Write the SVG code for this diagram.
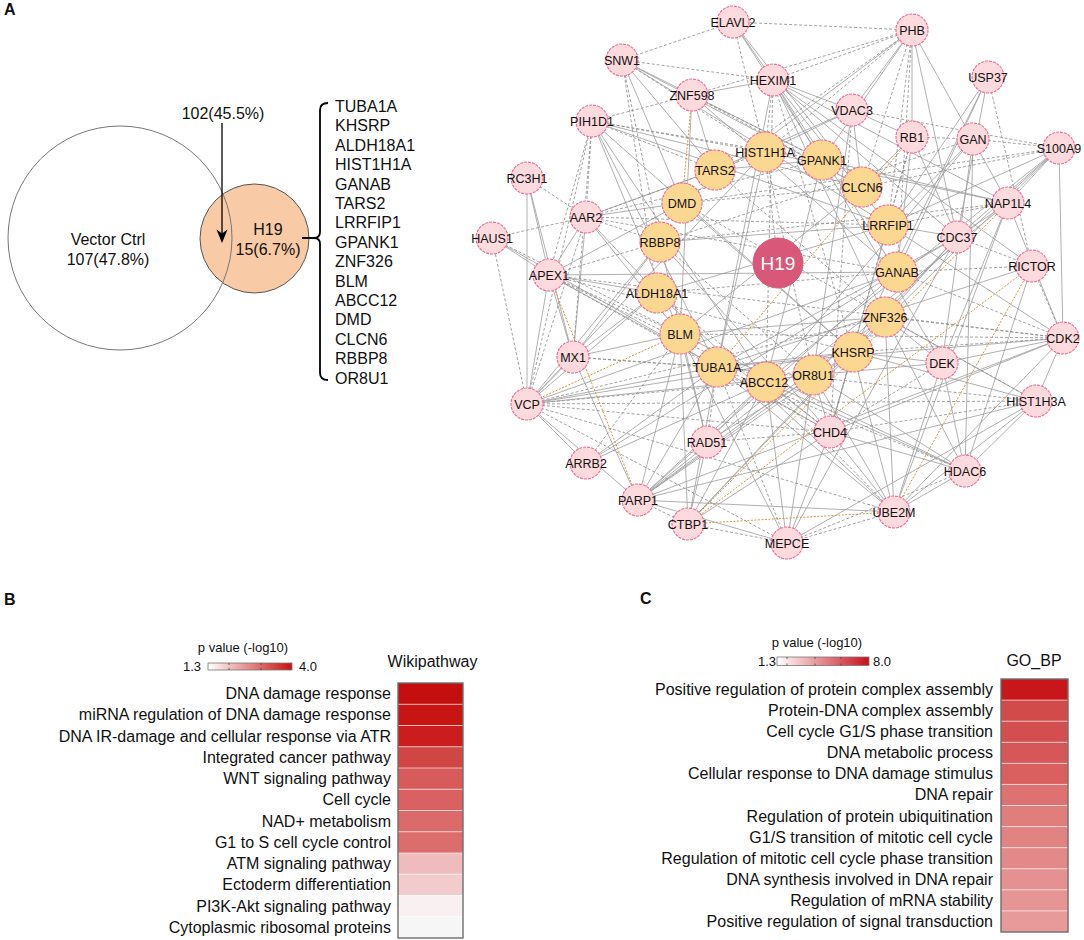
<svg xmlns="http://www.w3.org/2000/svg" width="1084" height="940" viewBox="0 0 1084 940">
<defs>
<style>
text{font-family:"Liberation Sans",Arial,sans-serif;fill:#111}
.pl{font-size:16px;font-weight:bold}
.t16{font-size:16px}
.t13{font-size:13px}
.mid{text-anchor:middle}
.end{text-anchor:end}
.s{stroke:#9c9c9c;stroke-width:0.8;fill:none}
.d{stroke:#8c8c8c;stroke-width:0.8;stroke-dasharray:3 2;fill:none}
.o{stroke:#c99a45;stroke-width:1;stroke-dasharray:2 1.5;fill:none}
.pn circle{fill:#fddadd;stroke:#f07098;stroke-width:1.2;stroke-dasharray:3 1}
.yn circle{fill:#fbd892;stroke:#f07098;stroke-width:1.2;stroke-dasharray:3 1}
.pn text,.yn text{font-size:12.5px;text-anchor:middle}
.sep{stroke:#ffffff;stroke-opacity:0.6;stroke-width:1}
.hbox{fill:none;stroke:#6e6e6e;stroke-width:1.4}
.tick{stroke:#444;stroke-width:0.8}
</style>
<linearGradient id="gB" x1="0" x2="1" y1="0" y2="0"><stop offset="0" stop-color="#ffffff"/><stop offset="1" stop-color="#c8100f"/></linearGradient>
<linearGradient id="gC" x1="0" x2="1" y1="0" y2="0"><stop offset="0" stop-color="#ffffff"/><stop offset="1" stop-color="#c8101a"/></linearGradient>
</defs>
<rect width="1084" height="940" fill="#ffffff"/>

<!-- Panel labels -->
<text class="pl" x="4" y="15">A</text>
<text class="pl" x="4" y="605">B</text>
<text class="pl" x="640" y="604">C</text>

<!-- Venn -->
<g id="venn">
<circle id="venn-h19" cx="254.5" cy="238.5" r="54.5" fill="#f8caa6" stroke="#555" stroke-width="1"/>
<circle id="venn-vector" cx="120" cy="238" r="112" fill="none" stroke="#777" stroke-width="1"/>
<text class="t16 mid" x="108" y="245">Vector Ctrl</text>
<text class="t16 mid" x="108" y="264.5">107(47.8%)</text>
<text class="t16 mid" x="268" y="235">H19</text>
<text class="t16 mid" x="268" y="254.5">15(6.7%)</text>
<text class="t16 mid" x="223" y="118.5">102(45.5%)</text>
<line x1="222" y1="123" x2="222" y2="236" stroke="#000" stroke-width="1.3"/>
<path d="M222,243 L216.5,229.5 L222,233.5 L227.5,229.5 Z" fill="#000"/>
<path d="M328,103 Q320,103 320,110 L320,232 Q320,238 314,238 L302,238 M314,238 Q320,238 320,244 L320,373 Q320,380 328,380" fill="none" stroke="#000" stroke-width="1.8"/>
<g class="t16">
<text x="335" y="112">TUBA1A</text>
<text x="335" y="131.4">KHSRP</text>
<text x="335" y="150.8">ALDH18A1</text>
<text x="335" y="170.2">HIST1H1A</text>
<text x="335" y="189.6">GANAB</text>
<text x="335" y="209">TARS2</text>
<text x="335" y="228.4">LRRFIP1</text>
<text x="335" y="247.8">GPANK1</text>
<text x="335" y="267.2">ZNF326</text>
<text x="335" y="286.6">BLM</text>
<text x="335" y="306">ABCC12</text>
<text x="335" y="325.4">DMD</text>
<text x="335" y="344.8">CLCN6</text>
<text x="335" y="364.2">RBBP8</text>
<text x="335" y="383.6">OR8U1</text>
</g>
</g>

<!-- Network connectors -->
<g id="connectors">
<line class="s" x1="912" y1="30" x2="852" y2="110"/>
<line class="s" x1="912" y1="30" x2="822" y2="160"/>
<line class="s" x1="912" y1="30" x2="912" y2="137"/>
<line class="s" x1="912" y1="30" x2="1008" y2="203"/>
<line class="s" x1="912" y1="30" x2="957" y2="237"/>
<line class="s" x1="912" y1="30" x2="682" y2="203"/>
<line class="s" x1="733" y1="22" x2="773" y2="80"/>
<line class="s" x1="733" y1="22" x2="822" y2="160"/>
<line class="s" x1="733" y1="22" x2="862" y2="187"/>
<line class="s" x1="622" y1="60" x2="715" y2="170"/>
<line class="s" x1="622" y1="60" x2="822" y2="160"/>
<line class="s" x1="622" y1="60" x2="862" y2="187"/>
<line class="s" x1="622" y1="60" x2="888" y2="225"/>
<line class="s" x1="622" y1="60" x2="682" y2="203"/>
<line class="s" x1="773" y1="80" x2="692" y2="95"/>
<line class="s" x1="773" y1="80" x2="852" y2="110"/>
<line class="s" x1="773" y1="80" x2="897" y2="272"/>
<line class="s" x1="773" y1="80" x2="888" y2="225"/>
<line class="s" x1="773" y1="80" x2="957" y2="237"/>
<line class="s" x1="773" y1="80" x2="885" y2="317"/>
<line class="s" x1="773" y1="80" x2="942" y2="363"/>
<line class="s" x1="773" y1="80" x2="1032" y2="266"/>
<line class="s" x1="773" y1="80" x2="1008" y2="203"/>
<line class="s" x1="773" y1="80" x2="717" y2="367"/>
<line class="s" x1="692" y1="95" x2="715" y2="170"/>
<line class="s" x1="692" y1="95" x2="897" y2="272"/>
<line class="s" x1="692" y1="95" x2="680" y2="334"/>
<line class="s" x1="852" y1="110" x2="912" y2="137"/>
<line class="s" x1="852" y1="110" x2="862" y2="187"/>
<line class="s" x1="852" y1="110" x2="765" y2="152"/>
<line class="s" x1="852" y1="110" x2="813" y2="375"/>
<line class="s" x1="852" y1="110" x2="715" y2="170"/>
<line class="s" x1="592" y1="121" x2="862" y2="187"/>
<line class="s" x1="592" y1="121" x2="888" y2="225"/>
<line class="s" x1="592" y1="121" x2="680" y2="334"/>
<line class="s" x1="592" y1="121" x2="766" y2="382"/>
<line class="s" x1="592" y1="121" x2="717" y2="367"/>
<line class="s" x1="592" y1="121" x2="853" y2="352"/>
<line class="s" x1="912" y1="137" x2="862" y2="187"/>
<line class="s" x1="912" y1="137" x2="897" y2="272"/>
<line class="s" x1="912" y1="137" x2="957" y2="237"/>
<line class="s" x1="973" y1="139" x2="888" y2="225"/>
<line class="s" x1="973" y1="139" x2="766" y2="382"/>
<line class="s" x1="973" y1="139" x2="965" y2="471"/>
<line class="s" x1="973" y1="139" x2="942" y2="363"/>
<line class="s" x1="988" y1="77" x2="888" y2="225"/>
<line class="s" x1="988" y1="77" x2="897" y2="272"/>
<line class="s" x1="988" y1="77" x2="957" y2="237"/>
<line class="s" x1="988" y1="77" x2="853" y2="352"/>
<line class="s" x1="1059" y1="148" x2="888" y2="225"/>
<line class="s" x1="1059" y1="148" x2="1008" y2="203"/>
<line class="s" x1="1059" y1="148" x2="1063" y2="338"/>
<line class="s" x1="1059" y1="148" x2="853" y2="352"/>
<line class="s" x1="1059" y1="148" x2="813" y2="375"/>
<line class="s" x1="1059" y1="148" x2="766" y2="382"/>
<line class="s" x1="1059" y1="148" x2="957" y2="237"/>
<line class="s" x1="1008" y1="203" x2="957" y2="237"/>
<line class="s" x1="1008" y1="203" x2="822" y2="160"/>
<line class="s" x1="1008" y1="203" x2="765" y2="152"/>
<line class="s" x1="1008" y1="203" x2="1063" y2="338"/>
<line class="s" x1="1008" y1="203" x2="942" y2="363"/>
<line class="s" x1="1008" y1="203" x2="894" y2="512"/>
<line class="s" x1="1008" y1="203" x2="638" y2="500"/>
<line class="s" x1="957" y1="237" x2="888" y2="225"/>
<line class="s" x1="957" y1="237" x2="897" y2="272"/>
<line class="s" x1="957" y1="237" x2="885" y2="317"/>
<line class="s" x1="957" y1="237" x2="717" y2="367"/>
<line class="s" x1="957" y1="237" x2="787" y2="543"/>
<line class="s" x1="957" y1="237" x2="688" y2="524"/>
<line class="s" x1="1032" y1="266" x2="717" y2="367"/>
<line class="s" x1="1032" y1="266" x2="965" y2="471"/>
<line class="s" x1="1063" y1="338" x2="942" y2="363"/>
<line class="s" x1="1063" y1="338" x2="1036" y2="401"/>
<line class="s" x1="1063" y1="338" x2="894" y2="512"/>
<line class="s" x1="1063" y1="338" x2="830" y2="432"/>
<line class="s" x1="1063" y1="338" x2="717" y2="367"/>
<line class="s" x1="1063" y1="338" x2="888" y2="225"/>
<line class="s" x1="1063" y1="338" x2="638" y2="500"/>
<line class="s" x1="942" y1="363" x2="965" y2="471"/>
<line class="s" x1="942" y1="363" x2="894" y2="512"/>
<line class="s" x1="942" y1="363" x2="885" y2="317"/>
<line class="s" x1="942" y1="363" x2="853" y2="352"/>
<line class="s" x1="942" y1="363" x2="813" y2="375"/>
<line class="s" x1="1036" y1="401" x2="965" y2="471"/>
<line class="s" x1="1036" y1="401" x2="894" y2="512"/>
<line class="s" x1="1036" y1="401" x2="853" y2="352"/>
<line class="s" x1="1036" y1="401" x2="885" y2="317"/>
<line class="s" x1="1036" y1="401" x2="787" y2="543"/>
<line class="s" x1="965" y1="471" x2="894" y2="512"/>
<line class="s" x1="965" y1="471" x2="766" y2="382"/>
<line class="s" x1="965" y1="471" x2="813" y2="375"/>
<line class="s" x1="965" y1="471" x2="830" y2="432"/>
<line class="s" x1="965" y1="471" x2="885" y2="317"/>
<line class="s" x1="965" y1="471" x2="680" y2="334"/>
<line class="s" x1="894" y1="512" x2="638" y2="500"/>
<line class="s" x1="894" y1="512" x2="830" y2="432"/>
<line class="s" x1="894" y1="512" x2="813" y2="375"/>
<line class="s" x1="894" y1="512" x2="853" y2="352"/>
<line class="s" x1="894" y1="512" x2="717" y2="367"/>
<line class="s" x1="894" y1="512" x2="885" y2="317"/>
<line class="s" x1="894" y1="512" x2="657" y2="293"/>
<line class="s" x1="787" y1="543" x2="638" y2="500"/>
<line class="s" x1="787" y1="543" x2="830" y2="432"/>
<line class="s" x1="787" y1="543" x2="766" y2="382"/>
<line class="s" x1="787" y1="543" x2="813" y2="375"/>
<line class="s" x1="787" y1="543" x2="680" y2="334"/>
<line class="s" x1="688" y1="524" x2="707" y2="442"/>
<line class="s" x1="688" y1="524" x2="717" y2="367"/>
<line class="s" x1="688" y1="524" x2="680" y2="334"/>
<line class="s" x1="688" y1="524" x2="830" y2="432"/>
<line class="s" x1="688" y1="524" x2="766" y2="382"/>
<line class="s" x1="688" y1="524" x2="885" y2="317"/>
<line class="s" x1="638" y1="500" x2="527" y2="404"/>
<line class="s" x1="638" y1="500" x2="680" y2="334"/>
<line class="s" x1="638" y1="500" x2="717" y2="367"/>
<line class="s" x1="638" y1="500" x2="766" y2="382"/>
<line class="s" x1="638" y1="500" x2="813" y2="375"/>
<line class="s" x1="638" y1="500" x2="853" y2="352"/>
<line class="s" x1="638" y1="500" x2="885" y2="317"/>
<line class="s" x1="638" y1="500" x2="573" y2="357"/>
<line class="s" x1="638" y1="500" x2="897" y2="272"/>
<line class="s" x1="638" y1="500" x2="1036" y2="401"/>
<line class="s" x1="707" y1="442" x2="680" y2="334"/>
<line class="s" x1="707" y1="442" x2="766" y2="382"/>
<line class="s" x1="707" y1="442" x2="660" y2="242"/>
<line class="s" x1="707" y1="442" x2="853" y2="352"/>
<line class="s" x1="586" y1="463" x2="527" y2="404"/>
<line class="s" x1="586" y1="463" x2="717" y2="367"/>
<line class="s" x1="586" y1="463" x2="766" y2="382"/>
<line class="s" x1="586" y1="463" x2="897" y2="272"/>
<line class="s" x1="830" y1="432" x2="813" y2="375"/>
<line class="s" x1="830" y1="432" x2="766" y2="382"/>
<line class="s" x1="830" y1="432" x2="717" y2="367"/>
<line class="s" x1="830" y1="432" x2="660" y2="242"/>
<line class="s" x1="830" y1="432" x2="888" y2="225"/>
<line class="s" x1="527" y1="404" x2="527" y2="178"/>
<line class="s" x1="527" y1="404" x2="549" y2="275"/>
<line class="s" x1="527" y1="404" x2="573" y2="357"/>
<line class="s" x1="527" y1="404" x2="657" y2="293"/>
<line class="s" x1="527" y1="404" x2="717" y2="367"/>
<line class="s" x1="527" y1="404" x2="813" y2="375"/>
<line class="s" x1="527" y1="404" x2="853" y2="352"/>
<line class="s" x1="527" y1="404" x2="897" y2="272"/>
<line class="s" x1="527" y1="404" x2="765" y2="152"/>
<line class="s" x1="527" y1="404" x2="660" y2="242"/>
<line class="s" x1="573" y1="357" x2="680" y2="334"/>
<line class="s" x1="573" y1="357" x2="657" y2="293"/>
<line class="s" x1="573" y1="357" x2="660" y2="242"/>
<line class="s" x1="573" y1="357" x2="586" y2="217"/>
<line class="s" x1="573" y1="357" x2="549" y2="275"/>
<line class="s" x1="573" y1="357" x2="527" y2="178"/>
<line class="s" x1="549" y1="275" x2="586" y2="217"/>
<line class="s" x1="549" y1="275" x2="492" y2="238"/>
<line class="s" x1="549" y1="275" x2="657" y2="293"/>
<line class="s" x1="549" y1="275" x2="717" y2="367"/>
<line class="s" x1="549" y1="275" x2="682" y2="203"/>
<line class="s" x1="549" y1="275" x2="897" y2="272"/>
<line class="s" x1="492" y1="238" x2="717" y2="367"/>
<line class="s" x1="527" y1="178" x2="549" y2="275"/>
<line class="s" x1="586" y1="217" x2="682" y2="203"/>
<line class="s" x1="586" y1="217" x2="715" y2="170"/>
<line class="s" x1="586" y1="217" x2="680" y2="334"/>
<line class="s" x1="586" y1="217" x2="657" y2="293"/>
<line class="s" x1="715" y1="170" x2="822" y2="160"/>
<line class="s" x1="660" y1="242" x2="888" y2="225"/>
<line class="s" x1="680" y1="334" x2="885" y2="317"/>
<line class="s" x1="717" y1="367" x2="853" y2="352"/>
<line class="s" x1="822" y1="160" x2="766" y2="382"/>
<line class="s" x1="682" y1="203" x2="853" y2="352"/>
<line class="s" x1="862" y1="187" x2="680" y2="334"/>
<line class="s" x1="888" y1="225" x2="657" y2="293"/>
<line class="s" x1="765" y1="152" x2="717" y2="367"/>

<line class="d" x1="912" y1="30" x2="733" y2="22"/>
<line class="d" x1="912" y1="30" x2="773" y2="80"/>
<line class="d" x1="912" y1="30" x2="765" y2="152"/>
<line class="d" x1="912" y1="30" x2="862" y2="187"/>
<line class="d" x1="912" y1="30" x2="888" y2="225"/>
<line class="d" x1="912" y1="30" x2="897" y2="272"/>
<line class="d" x1="912" y1="30" x2="715" y2="170"/>
<line class="d" x1="912" y1="30" x2="692" y2="95"/>
<line class="d" x1="733" y1="22" x2="622" y2="60"/>
<line class="d" x1="733" y1="22" x2="765" y2="152"/>
<line class="d" x1="622" y1="60" x2="773" y2="80"/>
<line class="d" x1="622" y1="60" x2="660" y2="242"/>
<line class="d" x1="622" y1="60" x2="657" y2="293"/>
<line class="d" x1="622" y1="60" x2="765" y2="152"/>
<line class="d" x1="773" y1="80" x2="765" y2="152"/>
<line class="d" x1="773" y1="80" x2="853" y2="352"/>
<line class="d" x1="773" y1="80" x2="766" y2="382"/>
<line class="d" x1="692" y1="95" x2="592" y2="121"/>
<line class="d" x1="692" y1="95" x2="822" y2="160"/>
<line class="d" x1="692" y1="95" x2="862" y2="187"/>
<line class="d" x1="852" y1="110" x2="1059" y2="148"/>
<line class="d" x1="852" y1="110" x2="830" y2="432"/>
<line class="d" x1="592" y1="121" x2="586" y2="217"/>
<line class="d" x1="592" y1="121" x2="549" y2="275"/>
<line class="d" x1="592" y1="121" x2="715" y2="170"/>
<line class="d" x1="592" y1="121" x2="765" y2="152"/>
<line class="d" x1="592" y1="121" x2="822" y2="160"/>
<line class="d" x1="592" y1="121" x2="573" y2="357"/>
<line class="d" x1="912" y1="137" x2="973" y2="139"/>
<line class="d" x1="912" y1="137" x2="888" y2="225"/>
<line class="d" x1="912" y1="137" x2="830" y2="432"/>
<line class="d" x1="973" y1="139" x2="1059" y2="148"/>
<line class="d" x1="973" y1="139" x2="660" y2="242"/>
<line class="d" x1="988" y1="77" x2="1032" y2="266"/>
<line class="d" x1="1059" y1="148" x2="862" y2="187"/>
<line class="d" x1="1059" y1="148" x2="682" y2="203"/>
<line class="d" x1="1008" y1="203" x2="888" y2="225"/>
<line class="d" x1="1008" y1="203" x2="660" y2="242"/>
<line class="d" x1="957" y1="237" x2="1032" y2="266"/>
<line class="d" x1="1032" y1="266" x2="1063" y2="338"/>
<line class="d" x1="1032" y1="266" x2="897" y2="272"/>
<line class="d" x1="1063" y1="338" x2="885" y2="317"/>
<line class="d" x1="1063" y1="338" x2="853" y2="352"/>
<line class="d" x1="1063" y1="338" x2="897" y2="272"/>
<line class="d" x1="1063" y1="338" x2="680" y2="334"/>
<line class="d" x1="1063" y1="338" x2="549" y2="275"/>
<line class="d" x1="942" y1="363" x2="830" y2="432"/>
<line class="d" x1="1036" y1="401" x2="830" y2="432"/>
<line class="d" x1="1036" y1="401" x2="717" y2="367"/>
<line class="d" x1="1036" y1="401" x2="682" y2="203"/>
<line class="d" x1="965" y1="471" x2="787" y2="543"/>
<line class="d" x1="965" y1="471" x2="717" y2="367"/>
<line class="d" x1="894" y1="512" x2="787" y2="543"/>
<line class="d" x1="894" y1="512" x2="766" y2="382"/>
<line class="d" x1="894" y1="512" x2="527" y2="404"/>
<line class="d" x1="787" y1="543" x2="717" y2="367"/>
<line class="d" x1="787" y1="543" x2="527" y2="404"/>
<line class="d" x1="787" y1="543" x2="688" y2="524"/>
<line class="d" x1="688" y1="524" x2="638" y2="500"/>
<line class="d" x1="707" y1="442" x2="717" y2="367"/>
<line class="d" x1="707" y1="442" x2="830" y2="432"/>
<line class="d" x1="586" y1="463" x2="680" y2="334"/>
<line class="d" x1="830" y1="432" x2="853" y2="352"/>
<line class="d" x1="830" y1="432" x2="657" y2="293"/>
<line class="d" x1="830" y1="432" x2="549" y2="275"/>
<line class="d" x1="527" y1="404" x2="492" y2="238"/>
<line class="d" x1="527" y1="404" x2="586" y2="217"/>
<line class="d" x1="527" y1="404" x2="766" y2="382"/>
<line class="d" x1="527" y1="404" x2="885" y2="317"/>
<line class="d" x1="527" y1="404" x2="830" y2="432"/>
<line class="d" x1="527" y1="404" x2="1036" y2="401"/>
<line class="d" x1="527" y1="404" x2="592" y2="121"/>
<line class="d" x1="573" y1="357" x2="717" y2="367"/>
<line class="d" x1="573" y1="357" x2="813" y2="375"/>
<line class="d" x1="549" y1="275" x2="660" y2="242"/>
<line class="d" x1="549" y1="275" x2="680" y2="334"/>
<line class="d" x1="549" y1="275" x2="766" y2="382"/>
<line class="d" x1="549" y1="275" x2="853" y2="352"/>
<line class="d" x1="492" y1="238" x2="586" y2="217"/>
<line class="d" x1="492" y1="238" x2="680" y2="334"/>
<line class="d" x1="527" y1="178" x2="586" y2="217"/>
<line class="d" x1="586" y1="217" x2="660" y2="242"/>
<line class="d" x1="586" y1="217" x2="765" y2="152"/>
<line class="d" x1="586" y1="217" x2="822" y2="160"/>
<line class="d" x1="586" y1="217" x2="888" y2="225"/>
<line class="d" x1="586" y1="217" x2="897" y2="272"/>
<line class="d" x1="682" y1="203" x2="862" y2="187"/>
<line class="d" x1="657" y1="293" x2="897" y2="272"/>
<line class="d" x1="765" y1="152" x2="813" y2="375"/>
<line class="d" x1="715" y1="170" x2="885" y2="317"/>
<line class="d" x1="660" y1="242" x2="813" y2="375"/>
<line class="d" x1="778" y1="263" x2="765" y2="152"/>

<line class="o" x1="692" y1="95" x2="682" y2="203"/>
<line class="o" x1="912" y1="137" x2="717" y2="367"/>
<line class="o" x1="527" y1="404" x2="680" y2="334"/>
<line class="o" x1="549" y1="275" x2="638" y2="500"/>
<line class="o" x1="688" y1="524" x2="1032" y2="266"/>
<line class="o" x1="688" y1="524" x2="894" y2="512"/>
<line class="o" x1="894" y1="512" x2="1032" y2="266"/>
<line class="o" x1="688" y1="524" x2="1008" y2="203"/>
</g>

<!-- Network nodes -->
<g id="nodes">
<g id="n-ELAVL2" class="pn"><circle cx="733" cy="22" r="16"/><text x="733" y="26.5">ELAVL2</text></g>
<g id="n-PHB" class="pn"><circle cx="912" cy="30" r="16"/><text x="912" y="34.5">PHB</text></g>
<g id="n-SNW1" class="pn"><circle cx="622" cy="60" r="16"/><text x="622" y="64.5">SNW1</text></g>
<g id="n-USP37" class="pn"><circle cx="988" cy="77" r="16"/><text x="988" y="81.5">USP37</text></g>
<g id="n-HEXIM1" class="pn"><circle cx="773" cy="80" r="16"/><text x="773" y="84.5">HEXIM1</text></g>
<g id="n-ZNF598" class="pn"><circle cx="692" cy="95" r="16"/><text x="692" y="99.5">ZNF598</text></g>
<g id="n-VDAC3" class="pn"><circle cx="852" cy="110" r="16"/><text x="852" y="114.5">VDAC3</text></g>
<g id="n-PIH1D1" class="pn"><circle cx="592" cy="121" r="16"/><text x="592" y="125.5">PIH1D1</text></g>
<g id="n-RB1" class="pn"><circle cx="912" cy="137" r="16"/><text x="912" y="141.5">RB1</text></g>
<g id="n-GAN" class="pn"><circle cx="973" cy="139" r="16"/><text x="973" y="143.5">GAN</text></g>
<g id="n-S100A9" class="pn"><circle cx="1059" cy="148" r="16"/><text x="1059" y="152.5">S100A9</text></g>
<g id="n-RC3H1" class="pn"><circle cx="527" cy="178" r="16"/><text x="527" y="182.5">RC3H1</text></g>
<g id="n-NAP1L4" class="pn"><circle cx="1008" cy="203" r="16"/><text x="1008" y="207.5">NAP1L4</text></g>
<g id="n-AAR2" class="pn"><circle cx="586" cy="217" r="16"/><text x="586" y="221.5">AAR2</text></g>
<g id="n-CDC37" class="pn"><circle cx="957" cy="237" r="16"/><text x="957" y="241.5">CDC37</text></g>
<g id="n-HAUS1" class="pn"><circle cx="492" cy="238" r="16"/><text x="492" y="242.5">HAUS1</text></g>
<g id="n-RICTOR" class="pn"><circle cx="1032" cy="266" r="16"/><text x="1032" y="270.5">RICTOR</text></g>
<g id="n-APEX1" class="pn"><circle cx="549" cy="275" r="16"/><text x="549" y="279.5">APEX1</text></g>
<g id="n-CDK2" class="pn"><circle cx="1063" cy="338" r="16"/><text x="1063" y="342.5">CDK2</text></g>
<g id="n-MX1" class="pn"><circle cx="573" cy="357" r="16"/><text x="573" y="361.5">MX1</text></g>
<g id="n-DEK" class="pn"><circle cx="942" cy="363" r="16"/><text x="942" y="367.5">DEK</text></g>
<g id="n-VCP" class="pn"><circle cx="527" cy="404" r="16"/><text x="527" y="408.5">VCP</text></g>
<g id="n-HIST1H3A" class="pn"><circle cx="1036" cy="401" r="16"/><text x="1036" y="405.5">HIST1H3A</text></g>
<g id="n-CHD4" class="pn"><circle cx="830" cy="432" r="16"/><text x="830" y="436.5">CHD4</text></g>
<g id="n-RAD51" class="pn"><circle cx="707" cy="442" r="16"/><text x="707" y="446.5">RAD51</text></g>
<g id="n-ARRB2" class="pn"><circle cx="586" cy="463" r="16"/><text x="586" y="467.5">ARRB2</text></g>
<g id="n-HDAC6" class="pn"><circle cx="965" cy="471" r="16"/><text x="965" y="475.5">HDAC6</text></g>
<g id="n-PARP1" class="pn"><circle cx="638" cy="500" r="16"/><text x="638" y="504.5">PARP1</text></g>
<g id="n-UBE2M" class="pn"><circle cx="894" cy="512" r="16"/><text x="894" y="516.5">UBE2M</text></g>
<g id="n-CTBP1" class="pn"><circle cx="688" cy="524" r="16"/><text x="688" y="528.5">CTBP1</text></g>
<g id="n-MEPCE" class="pn"><circle cx="787" cy="543" r="16"/><text x="787" y="547.5">MEPCE</text></g>

<g id="n-HIST1H1A" class="yn"><circle cx="765" cy="152" r="20"/><text x="765" y="156.5">HIST1H1A</text></g>
<g id="n-GPANK1" class="yn"><circle cx="822" cy="160" r="20"/><text x="822" y="164.5">GPANK1</text></g>
<g id="n-TARS2" class="yn"><circle cx="715" cy="170" r="20"/><text x="715" y="174.5">TARS2</text></g>
<g id="n-CLCN6" class="yn"><circle cx="862" cy="187" r="20"/><text x="862" y="191.5">CLCN6</text></g>
<g id="n-DMD" class="yn"><circle cx="682" cy="203" r="20"/><text x="682" y="207.5">DMD</text></g>
<g id="n-LRRFIP1" class="yn"><circle cx="888" cy="225" r="20"/><text x="888" y="229.5">LRRFIP1</text></g>
<g id="n-RBBP8" class="yn"><circle cx="660" cy="242" r="20"/><text x="660" y="246.5">RBBP8</text></g>
<g id="n-GANAB" class="yn"><circle cx="897" cy="272" r="20"/><text x="897" y="276.5">GANAB</text></g>
<g id="n-ALDH18A1" class="yn"><circle cx="657" cy="293" r="20"/><text x="657" y="297.5">ALDH18A1</text></g>
<g id="n-ZNF326" class="yn"><circle cx="885" cy="317" r="20"/><text x="885" y="321.5">ZNF326</text></g>
<g id="n-BLM" class="yn"><circle cx="680" cy="334" r="20"/><text x="680" y="338.5">BLM</text></g>
<g id="n-KHSRP" class="yn"><circle cx="853" cy="352" r="20"/><text x="853" y="356.5">KHSRP</text></g>
<g id="n-TUBA1A" class="yn"><circle cx="717" cy="367" r="20"/><text x="717" y="371.5">TUBA1A</text></g>
<g id="n-ABCC12" class="yn"><circle cx="766" cy="382" r="20"/><text x="764" y="386.5">ABCC12</text></g>
<g id="n-OR8U1" class="yn"><circle cx="813" cy="375" r="20"/><text x="813" y="379.5">OR8U1</text></g>

<g id="n-H19"><circle cx="778" cy="263" r="25" fill="#d9587a" stroke="#d9587a" stroke-width="1"/><text x="778" y="270" font-size="19" text-anchor="middle" style="fill:#ffffff">H19</text></g>
</g>

<!-- Heatmap B -->
<g id="heatmap-B">
<text class="t13 mid" x="243" y="652">p value (-log10)</text>
<text class="t13 end" x="201" y="671">1.3</text>
<rect x="208" y="663" width="84" height="7" fill="url(#gB)" stroke="#777" stroke-width="0.8"/>
<line class="tick" x1="229" y1="663" x2="229" y2="665"/><line class="tick" x1="229" y1="668" x2="229" y2="670"/>
<line class="tick" x1="261" y1="663" x2="261" y2="665"/><line class="tick" x1="261" y1="668" x2="261" y2="670"/>
<text class="t13" x="299" y="671">4.0</text>
<text class="t16 mid" x="432.5" y="667">Wikipathway</text>
<rect x="398" y="683" width="65" height="21.25" fill="#c50e0e"/>
<rect x="398" y="704.25" width="65" height="21.25" fill="#c91414"/>
<rect x="398" y="725.5" width="65" height="21.25" fill="#ca1e1e"/>
<rect x="398" y="746.75" width="65" height="21.25" fill="#d24545"/>
<rect x="398" y="768" width="65" height="21.25" fill="#d85b5b"/>
<rect x="398" y="789.25" width="65" height="21.25" fill="#da6161"/>
<rect x="398" y="810.5" width="65" height="21.25" fill="#db6a6a"/>
<rect x="398" y="831.75" width="65" height="21.25" fill="#dc6d6d"/>
<rect x="398" y="853" width="65" height="21.25" fill="#efbcbe"/>
<rect x="398" y="874.25" width="65" height="21.25" fill="#f2cbcd"/>
<rect x="398" y="895.5" width="65" height="21.25" fill="#f9f1f1"/>
<rect x="398" y="916.75" width="65" height="21.25" fill="#f7f6f6"/>
<g class="sep">
<line x1="398" y1="704.25" x2="463" y2="704.25"/><line x1="398" y1="725.5" x2="463" y2="725.5"/><line x1="398" y1="746.75" x2="463" y2="746.75"/><line x1="398" y1="768" x2="463" y2="768"/><line x1="398" y1="789.25" x2="463" y2="789.25"/><line x1="398" y1="810.5" x2="463" y2="810.5"/><line x1="398" y1="831.75" x2="463" y2="831.75"/><line x1="398" y1="853" x2="463" y2="853"/><line x1="398" y1="874.25" x2="463" y2="874.25"/><line x1="398" y1="895.5" x2="463" y2="895.5"/><line x1="398" y1="916.75" x2="463" y2="916.75"/>
</g>
<rect class="hbox" x="398" y="683" width="65" height="255"/>
<g class="t16 end">
<text x="391" y="699">DNA damage response</text>
<text x="391" y="720.3">miRNA regulation of DNA damage response</text>
<text x="391" y="741.5">DNA IR-damage and cellular response via ATR</text>
<text x="391" y="762.8">Integrated cancer pathway</text>
<text x="391" y="784">WNT signaling pathway</text>
<text x="391" y="805.3">Cell cycle</text>
<text x="391" y="826.5">NAD+ metabolism</text>
<text x="391" y="847.8">G1 to S cell cycle control</text>
<text x="391" y="869">ATM signaling pathway</text>
<text x="391" y="890.3">Ectoderm differentiation</text>
<text x="391" y="911.5">PI3K-Akt signaling pathway</text>
<text x="391" y="932.8">Cytoplasmic ribosomal proteins</text>
</g>
</g>

<!-- Heatmap C -->
<g id="heatmap-C">
<text class="t13 mid" x="817" y="647">p value (-log10)</text>
<text class="t13 end" x="776" y="666">1.3</text>
<rect x="777" y="657" width="92" height="8.5" fill="url(#gC)" stroke="#777" stroke-width="0.8"/>
<line class="tick" x1="787" y1="657" x2="787" y2="659"/><line class="tick" x1="787" y1="663.5" x2="787" y2="665.5"/>
<line class="tick" x1="815" y1="657" x2="815" y2="659"/><line class="tick" x1="815" y1="663.5" x2="815" y2="665.5"/>
<line class="tick" x1="841" y1="657" x2="841" y2="659"/><line class="tick" x1="841" y1="663.5" x2="841" y2="665.5"/>
<text class="t13" x="873" y="666">8.0</text>
<text class="t16 mid" x="1034" y="666">GO_BP</text>
<rect x="1001" y="679" width="67" height="21.08" fill="#c8171b"/>
<rect x="1001" y="700.08" width="67" height="21.08" fill="#d24b4b"/>
<rect x="1001" y="721.17" width="67" height="21.08" fill="#d34e4e"/>
<rect x="1001" y="742.25" width="67" height="21.08" fill="#d65757"/>
<rect x="1001" y="763.33" width="67" height="21.08" fill="#da6060"/>
<rect x="1001" y="784.42" width="67" height="21.08" fill="#de7171"/>
<rect x="1001" y="805.5" width="67" height="21.08" fill="#e07d7d"/>
<rect x="1001" y="826.58" width="67" height="21.08" fill="#e18383"/>
<rect x="1001" y="847.67" width="67" height="21.08" fill="#e38989"/>
<rect x="1001" y="868.75" width="67" height="21.08" fill="#e59191"/>
<rect x="1001" y="889.83" width="67" height="21.08" fill="#e69595"/>
<rect x="1001" y="910.92" width="67" height="21.08" fill="#e79a9a"/>
<g class="sep">
<line x1="1001" y1="700.08" x2="1068" y2="700.08"/><line x1="1001" y1="721.17" x2="1068" y2="721.17"/><line x1="1001" y1="742.25" x2="1068" y2="742.25"/><line x1="1001" y1="763.33" x2="1068" y2="763.33"/><line x1="1001" y1="784.42" x2="1068" y2="784.42"/><line x1="1001" y1="805.5" x2="1068" y2="805.5"/><line x1="1001" y1="826.58" x2="1068" y2="826.58"/><line x1="1001" y1="847.67" x2="1068" y2="847.67"/><line x1="1001" y1="868.75" x2="1068" y2="868.75"/><line x1="1001" y1="889.83" x2="1068" y2="889.83"/><line x1="1001" y1="910.92" x2="1068" y2="910.92"/>
</g>
<rect class="hbox" x="1001" y="679" width="67" height="253"/>
<g class="t16 end">
<text x="993" y="695">Positive regulation of protein complex assembly</text>
<text x="993" y="716.1">Protein-DNA complex assembly</text>
<text x="993" y="737.2">Cell cycle G1/S phase transition</text>
<text x="993" y="758.3">DNA metabolic process</text>
<text x="993" y="779.3">Cellular response to DNA damage stimulus</text>
<text x="993" y="800.4">DNA repair</text>
<text x="993" y="821.5">Regulation of protein ubiquitination</text>
<text x="993" y="842.6">G1/S transition of mitotic cell cycle</text>
<text x="993" y="863.7">Regulation of mitotic cell cycle phase transition</text>
<text x="993" y="884.8">DNA synthesis involved in DNA repair</text>
<text x="993" y="905.8">Regulation of mRNA stability</text>
<text x="993" y="926.9">Positive regulation of signal transduction</text>
</g>
</g>
</svg>
